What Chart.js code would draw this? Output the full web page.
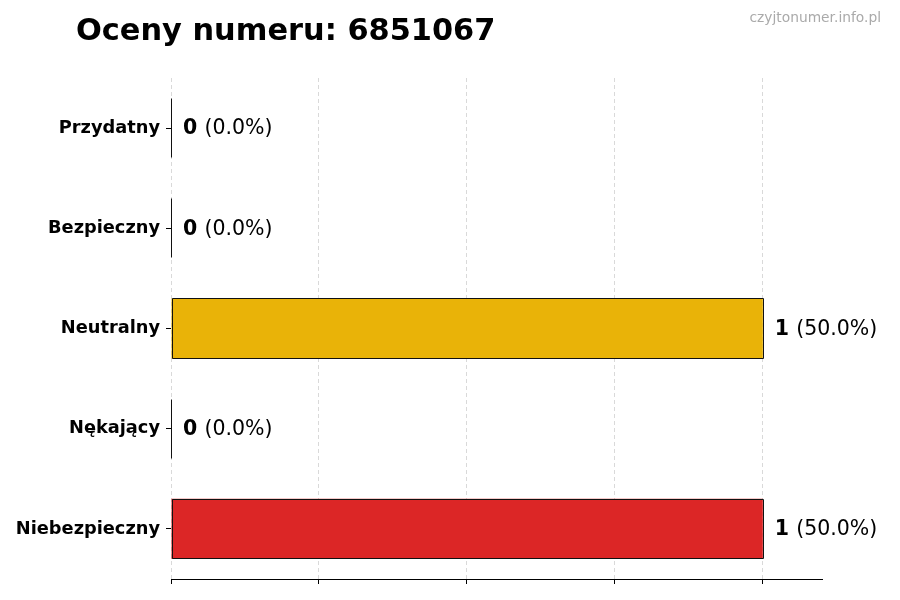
<!DOCTYPE html>
<html>
<head>
<meta charset="utf-8">
<script src="https://cdn.jsdelivr.net/npm/chart.js@4.4.1/dist/chart.umd.min.js"></script>
<style>
html,body{margin:0;padding:0;background:#fff;}
#wrap{width:900px;height:600px;position:relative;}
</style>
</head>
<body>
<div id="wrap"><canvas id="c" width="900" height="600"></canvas></div>
<script>
const titleText = 'Oceny numeru: 6851067';
const watermark = 'czyjtonumer.info.pl';
const categories = ['Przydatny', 'Bezpieczny', 'Neutralny', 'Nękający', 'Niebezpieczny'];
const counts = [0, 0, 1, 0, 1];
const barColors = ['#2E9E4F', '#7CC242', '#E9B308', '#F07F1A', '#DC2626'];
const xTicks = [0, 0.25, 0.5, 0.75, 1.0];

const FONT = '"DejaVu Sans", sans-serif';
const total = counts.reduce((a, b) => a + b, 0);

const decor = {
  id: 'decor',
  afterDatasetsDraw(chart) {
    const ctx = chart.ctx;
    const meta = chart.getDatasetMeta(0);
    const xs = chart.scales.x;
    ctx.save();
    meta.data.forEach((bar, i) => {
      const v = counts[i];
      const h = bar.height;
      const x0 = Math.round(bar.base) + 0.5;
      const x1 = Math.round(bar.x) + 0.5;
      const y0 = Math.round(bar.y - h / 2) + 0.5;
      const y1 = Math.round(bar.y + h / 2) - 0.5;
      ctx.strokeStyle = '#111';
      ctx.lineWidth = 1;
      ctx.beginPath();
      if (v === 0) {
        ctx.moveTo(x0, y0);
        ctx.lineTo(x0, y1);
      } else {
        ctx.rect(x0, y0, x1 - x0, y1 - y0);
      }
      ctx.stroke();
      const x = xs.getPixelForValue(v) + 12;
      ctx.textBaseline = 'middle';
      ctx.textAlign = 'left';
      ctx.fillStyle = '#000';
      ctx.font = 'bold 20.5px ' + FONT;
      const a = String(v);
      ctx.fillText(a, x, bar.y + 1);
      const w = ctx.measureText(a + ' ').width;
      ctx.font = '20.5px ' + FONT;
      const pct = total ? (v / total * 100).toFixed(1) : '0.0';
      ctx.fillText('(' + pct + '%)', x + w, bar.y + 1);
    });
    ctx.restore();
  },
  afterDraw(chart) {
    const ctx = chart.ctx;
    ctx.save();
    ctx.fillStyle = '#000';
    ctx.font = 'bold 30.4px ' + FONT;
    ctx.textBaseline = 'alphabetic';
    ctx.textAlign = 'left';
    ctx.fillText(titleText, 76, 40);
    ctx.fillStyle = '#aaa';
    ctx.font = '13.8px ' + FONT;
    ctx.textAlign = 'right';
    ctx.textBaseline = 'middle';
    ctx.fillText(watermark, 881, 18);
    ctx.restore();
  }
};

new Chart(document.getElementById('c'), {
  type: 'bar',
  data: {
    labels: categories,
    datasets: [{
      data: counts,
      backgroundColor: barColors,
      borderWidth: 0,
      barPercentage: 0.6,
      categoryPercentage: 1.0
    }]
  },
  options: {
    indexAxis: 'y',
    responsive: false,
    animation: false,
    devicePixelRatio: 1,
    layout: { padding: { top: 78, right: 78, bottom: 16, left: 0 } },
    plugins: { legend: { display: false }, tooltip: { enabled: false }, title: { display: false } },
    scales: {
      x: {
        min: 0,
        max: 1.1,
        afterBuildTicks: axis => { axis.ticks = xTicks.map(v => ({ value: v })); },
        ticks: { display: false },
        grid: {
          color: '#d9d9d9',
          lineWidth: 1,
          tickColor: '#000',
          tickLength: 5,
          tickBorderDash: [],
        },
        border: { display: true, color: '#000', width: 1, dash: [4, 3] }
      },
      y: {
        afterFit: axis => { axis.width = 171; },
        ticks: {
          color: '#000',
          padding: 6,
          font: { family: 'DejaVu Sans', weight: 'bold', size: 17.8 }
        },
        grid: { offset: false, drawOnChartArea: false, color: '#000', tickColor: '#000', tickLength: 5 },
        border: { display: false }
      }
    }
  },
  plugins: [decor]
});
</script>
</body>
</html>
